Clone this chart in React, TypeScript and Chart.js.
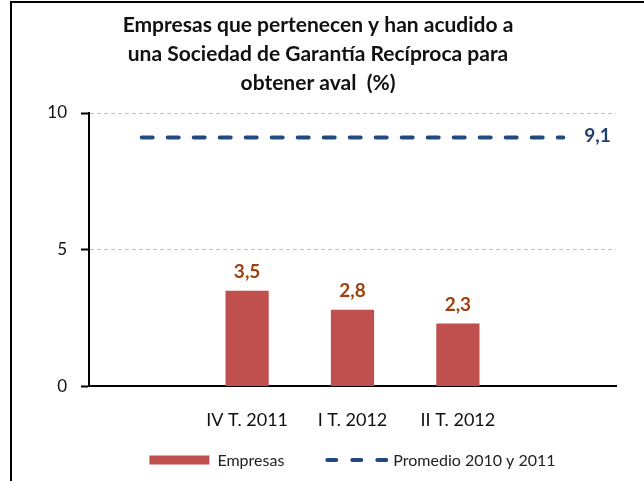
import React, { useEffect, useRef } from 'react';
import { Chart, registerables } from 'chart.js';

Chart.register(...registerables);

const categories = ['', 'IV T. 2011', 'I T. 2012', 'II T. 2012', ''];
const empresas: (number | null)[] = [null, 3.5, 2.8, 2.3, null];
const promedio = [9.1, 9.1, 9.1, 9.1, 9.1];
const yTicks = [0, 5, 10];
const titleLines = [
  'Empresas que pertenecen y han acudido a',
  'una Sociedad de Garantía Recíproca para',
  'obtener aval  (%)',
];
const seriesNames = ['Empresas', 'Promedio 2010 y 2011'];

const FONT = 'Lato, "Open Sans", sans-serif';
const BAR_COLOR = '#c0504d';
const LINE_COLOR = '#234a7e';
const BAR_LABEL_COLOR = '#a0410d';
const LINE_LABEL_COLOR = '#1f3f6e';

const fmt = (v: number) => v.toFixed(1).replace('.', ',');

const decor = {
  id: 'decor',
  beforeDraw(chart: any) {
    const ctx = chart.ctx;
    ctx.save();
    ctx.fillStyle = '#ffffff';
    ctx.fillRect(0, 0, chart.width, chart.height);
    ctx.fillStyle = '#000000';
    ctx.fillRect(10, 1, chart.width - 10, 2);
    ctx.fillRect(10, 1, 2, chart.height);
    ctx.restore();
  },
  afterDraw(chart: any) {
    const ctx = chart.ctx;
    const area = chart.chartArea;
    ctx.save();
    // title
    ctx.fillStyle = '#111111';
    ctx.font = `bold 21px ${FONT}`;
    ctx.textAlign = 'center';
    ctx.textBaseline = 'alphabetic';
    titleLines.forEach((l, i) => ctx.fillText(l, 318, 32 + i * 29));

    // bar value labels
    const barMeta = chart.getDatasetMeta(0);
    ctx.font = `bold 19px ${FONT}`;
    ctx.fillStyle = BAR_LABEL_COLOR;
    ctx.textAlign = 'center';
    barMeta.data.forEach((el: any, i: number) => {
      const v = empresas[i];
      if (v == null) return;
      ctx.fillText(fmt(v), el.x, el.y - 13);
    });

    // line end label
    const lineMeta = chart.getDatasetMeta(1);
    const last = lineMeta.data[lineMeta.data.length - 1];
    ctx.fillStyle = LINE_LABEL_COLOR;
    ctx.textAlign = 'left';
    ctx.fillText(fmt(promedio[promedio.length - 1]), last.x + 21, last.y + 4);

    // legend
    const ly = 460;
    ctx.font = `16px ${FONT}`;
    ctx.textBaseline = 'middle';
    const w1 = ctx.measureText(seriesNames[0]).width;
    const w2 = ctx.measureText(seriesNames[1]).width;
    const box1 = 60, box2 = 63, gapTxt1 = 8, gapTxt2 = 5, gapItem = 41;
    const total = box1 + gapTxt1 + w1 + gapItem + box2 + gapTxt2 + w2;
    let x = (area.left + area.right) / 2 - total / 2;
    ctx.fillStyle = BAR_COLOR;
    ctx.fillRect(x, ly - 4.5, box1, 9);
    x += box1 + gapTxt1;
    ctx.fillStyle = '#222222';
    ctx.textAlign = 'left';
    ctx.fillText(seriesNames[0], x, ly + 1);
    x += w1 + gapItem;
    ctx.strokeStyle = LINE_COLOR;
    ctx.lineWidth = 4;
    ctx.lineCap = 'round';
    ctx.setLineDash([9, 16]);
    ctx.beginPath();
    ctx.moveTo(x + 2, ly);
    ctx.lineTo(x + 2 + 59, ly);
    ctx.stroke();
    ctx.setLineDash([]);
    x += box2 + gapTxt2;
    ctx.fillStyle = '#222222';
    ctx.fillText(seriesNames[1], x, ly + 1);
    ctx.restore();
  },
};

export default function App() {
  const ref = useRef<HTMLCanvasElement | null>(null);
  useEffect(() => {
    if (!ref.current) return;
    const chart = new Chart(ref.current, {
      type: 'bar',
      data: {
        labels: categories,
        datasets: [
          {
            type: 'bar',
            label: seriesNames[0],
            data: empresas as any,
            backgroundColor: BAR_COLOR,
            barPercentage: 0.41,
            categoryPercentage: 1,
            order: 2,
          },
          {
            type: 'line',
            label: seriesNames[1],
            data: promedio,
            borderColor: LINE_COLOR,
            borderWidth: 4,
            borderDash: [11, 15],
            borderCapStyle: 'round',
            pointRadius: 0,
            fill: false,
            order: 1,
          } as any,
        ],
      },
      options: {
        responsive: false,
        animation: false,
        layout: { padding: { top: 113, left: 10, right: 28, bottom: 27 } },
        plugins: {
          legend: { display: false },
          title: { display: false },
          tooltip: { enabled: false },
        },
        scales: {
          x: {
            grid: { display: false, drawTicks: false },
            border: { color: '#000000', width: 2 },
            ticks: { font: { size: 18, family: FONT }, color: '#111111', padding: 23 },
          },
          y: {
            min: 0,
            max: 10,
            afterBuildTicks: (s: any) => {
              s.ticks = yTicks.map((v) => ({ value: v }));
            },
            afterFit: (s: any) => {
              s.width = 79;
            },
            ticks: { font: { size: 17, family: FONT }, color: '#111111', padding: 14 },
            grid: {
              color: (c: any) => (c.tick && c.tick.value === 0 ? 'rgba(0,0,0,0)' : '#c4c4c4'),
              lineWidth: 1,
              tickColor: '#000000',
              tickLength: 8,
              tickWidth: 2,
            },
            border: { color: '#000000', width: 2, dash: [4, 3] },
          },
        },
      },
      plugins: [decor],
    });
    return () => chart.destroy();
  }, []);
  return (
    <div style={{ position: 'fixed', left: 0, top: 0, width: 644, height: 481, overflow: 'hidden', background: '#fff' }}>
      <canvas ref={ref} width={644} height={481} style={{ width: 644, height: 481, display: 'block' }} />
    </div>
  );
}
